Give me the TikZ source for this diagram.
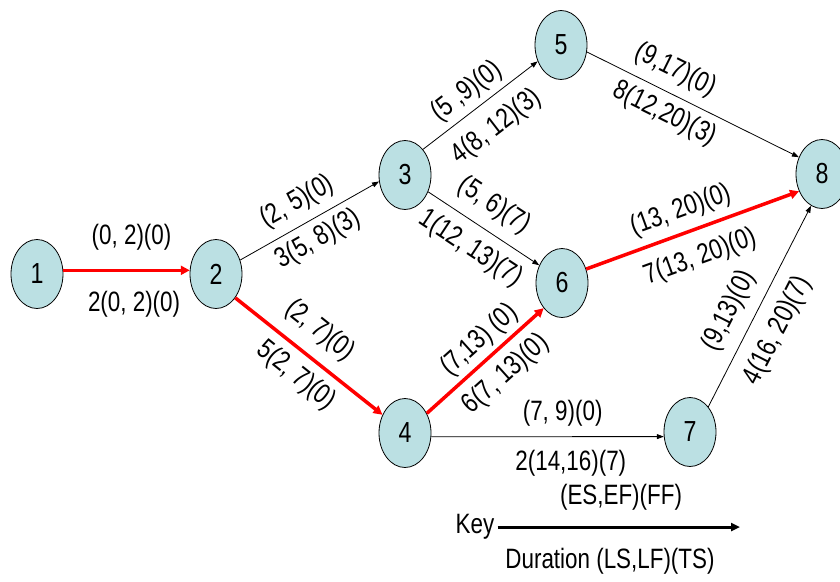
\documentclass[tikz,border=0pt]{standalone}
\usepackage{fontspec}
\setmainfont{Liberation Sans}[FakeStretch=0.8]
\usetikzlibrary{arrows.meta,shapes.geometric}
\definecolor{nodefill}{RGB}{187,224,227}
\begin{document}
\begin{tikzpicture}[x=1pt,y=-1pt,
  ev/.style={ellipse, draw=black, line width=0.8pt, fill=nodefill, minimum width=52pt, minimum height=69pt, inner sep=0pt, font=\fontsize{29}{31}\selectfont},
  crit/.style={draw=red, line width=3.5pt, -{Triangle[length=9pt,width=9pt]}},
  norm/.style={draw=black, line width=0.8pt, -{Triangle[length=7pt,width=5pt]}},
  lab/.style={sloped, inner sep=0pt, font=\fontsize{28}{30}\selectfont},
  keytxt/.style={inner sep=0pt, font=\fontsize{28}{30}\selectfont},
]
\useasboundingbox (0,0) rectangle (840,581);
\node[ev] (n1) at (37,274) {1};
\node[ev] (n2) at (216,274) {2};
\node[ev] (n3) at (405,175) {3};
\node[ev] (n4) at (405,433) {4};
\node[ev] (n5) at (561,45) {5};
\node[ev] (n6) at (562,283) {6};
\node[ev] (n7) at (690,432) {7};
\node[ev] (n8) at (822,174) {8};

\draw[crit] (n1.8) -- (n2.172)
  node[lab,pos=.54,above=33pt,anchor=center]{(0, 2)(0)}
  node[lab,pos=.56,below=34pt,anchor=center]{2(0, 2)(0)};
\draw[norm] (n2.30) -- (n3.194)
  node[lab,pos=.49,above=22.5pt,anchor=center]{(2, 5)(0)}
  node[lab,pos=.49,below=20.5pt,anchor=center]{3(5, 8)(3)};
\draw[crit] (n2.-51) -- (n4.141)
  node[lab,pos=.46,above=27pt,anchor=center]{(2, 7)(0)}
  node[lab,pos=.51,below=23pt,anchor=center]{5(2, 7)(0)};
\draw[norm] (n3.55) -- (n5.215)
  node[lab,pos=.485,above=19pt,anchor=center]{(5 ,9)(0)}
  node[lab,pos=.50,below=27pt,anchor=center]{4(8, 12)(3)};
\draw[norm] (n3.-36) -- (n6.142)
  node[lab,pos=.47,above=25pt,anchor=center]{(5, 6)(7)}
  node[lab,pos=.50,below=24pt,anchor=center]{1(12, 13)(7)};
\draw[crit] (n4.42) -- (n6.234)
  node[lab,pos=.56,above=19pt,anchor=center]{(7,13) (0)}
  node[lab,pos=.54,below=24pt,anchor=center]{6(7, 13)(0)};
\draw[norm] (n4.-8) -- (n7.190)
  node[lab,pos=.565,above=23pt,anchor=center]{(7, 9)(0)}
  node[lab,pos=.60,below=27pt,anchor=center]{2(14,16)(7)};
\draw[norm] (n5.-15) -- (n8.144)
  node[lab,pos=.37,above=23pt,anchor=center]{(9,17)(0)}
  node[lab,pos=.41,below=21pt,anchor=center]{8(12,20)(3)};
\draw[crit] (n6.30) -- (n8.217)
  node[lab,pos=.48,above=22.5pt,anchor=center]{(13, 20)(0)}
  node[lab,pos=.49,below=28pt,anchor=center]{7(13, 20)(0)};
\draw[norm] (n7.54) -- (n8.251)
  node[lab,pos=.42,above=25pt,anchor=center]{(9,13)(0)}
  node[lab,pos=.44,below=27pt,anchor=center]{4(16, 20)(7)};

\node[keytxt] (key) at (475,527) {Key};
\node[keytxt] (es) at (621,497) {(ES,EF)(FF)};
\node[keytxt] (dur) at (610,561) {Duration (LS,LF)(TS)};
\coordinate (keyend) at (740,527);
\draw[line width=3pt, -{Triangle[length=9pt,width=8pt]}] ([xshift=3pt]key.east) -- (keyend |- key.east);
\end{tikzpicture}
\end{document}
